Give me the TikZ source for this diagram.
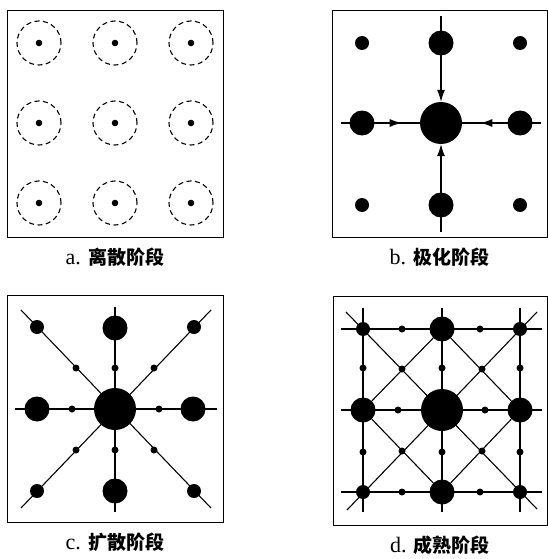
\documentclass[tikz,border=0pt]{standalone}
\usepackage{fontspec}
\setmainfont{Liberation Serif}
\newfontfamily\cjk{Noto Sans CJK SC}
\usepackage{tikz}
\usetikzlibrary{positioning, arrows.meta, decorations.markings}

\begin{document}
\begin{tikzpicture}[x=1pt, y=-1pt,
			panel/.style={draw, line width=0.9pt, inner sep=0pt},
			seed/.style={circle, draw, line width=1.1pt, dash pattern=on 5pt off 3.5pt, minimum size=44pt, inner sep=0pt,
				path picture={\fill (path picture bounding box.center) circle (3.3pt);}},
			dotS/.style={circle, fill, inner sep=0pt, minimum size=7pt},
			dotM/.style={dotS, minimum size=14pt},
			dotL/.style={dotS, minimum size=25pt},
			dotXL/.style={dotS, minimum size=42pt},
			link/.style={line width=1.1pt},
			flow/.style={postaction={decorate}, decoration={markings, mark=at position 0.77 with {\arrow{Latex[length=12pt,width=8pt]}}}},
			stage/.style={font=\fontsize{22}{24}\selectfont}]
			\useasboundingbox (0,0) rectangle (548,559);
			% a: scattered seeds
			\node[panel, minimum width=216pt, minimum height=227pt] (panelA) at (115,123.5) {};
			\node[seed] (a11) at (39,43) {};
			\node[seed] (a12) at (115,43) {};
			\node[seed] (a13) at (191,43) {};
			\node[seed] (a21) at (39,123) {};
			\node[seed] (a22) at (115,123) {};
			\node[seed] (a23) at (191,123) {};
			\node[seed] (a31) at (39,203) {};
			\node[seed] (a32) at (115,203) {};
			\node[seed] (a33) at (191,203) {};
			\node[stage, below=7pt of panelA] (labA) {a. {\cjk\bfseries\fontsize{19}{22}\selectfont 离散阶段}};
			% b: polarisation
			\node[panel, minimum width=215pt, minimum height=227pt] (panelB) at (439.5,123.5) {};
			\node[dotXL] (bC) at (441,123) {};
			\node[dotL] (bN) at (441,43) {};
			\node[dotL] (bS) at (441,205) {};
			\node[dotL] (bW) at (362,123) {};
			\node[dotL] (bE) at (520,123) {};
			\node[dotM] (bNW) at (362,43) {};
			\node[dotM] (bNE) at (520,43) {};
			\node[dotM] (bSW) at (362,205) {};
			\node[dotM] (bSE) at (520,205) {};
			\coordinate (bNend) at (441,16);
			\coordinate (bSend) at (441,232);
			\coordinate (bWend) at (341,123);
			\coordinate (bEend) at (541,123);
			\draw[link, -{Latex[length=12pt,width=8pt]}] (bNend) -- (bC);
			\draw[link, -{Latex[length=12pt,width=8pt]}] (bSend) -- (bC);
			\draw[link, flow] (bWend) -- (bC);
			\draw[link, flow] (bEend) -- (bC);
			\node[stage, below=7pt of panelB] (labB) {b. {\cjk\bfseries\fontsize{19}{22}\selectfont 极化阶段}};
			% c: diffusion
			\node[panel, minimum width=216pt, minimum height=227pt] (panelC) at (115,408.5) {};
			\coordinate (cWend) at (15,409);
			\coordinate (cEend) at (217,409);
			\coordinate (cNend) at (115,307);
			\coordinate (cSend) at (115,512);
			\coordinate (cNWend) at (21,310);
			\coordinate (cSEend) at (211,508);
			\coordinate (cNEend) at (211,310);
			\coordinate (cSWend) at (21,508);
			\draw[link] (cWend) -- (cEend);
			\draw[link] (cNend) -- (cSend);
			\draw[link] (cNWend) -- (cSEend);
			\draw[link] (cNEend) -- (cSWend);
			\node[dotXL] (cC) at (115,409) {};
			\node[dotL] (cN) at (115,328) {};
			\node[dotL] (cS) at (115,491) {};
			\node[dotL] (cW) at (37,409) {};
			\node[dotL] (cE) at (193,409) {};
			\node[dotM] (cNW) at (37,327) {};
			\node[dotM] (cNE) at (194,327) {};
			\node[dotM] (cSW) at (37,491) {};
			\node[dotM] (cSE) at (194,491) {};
			\node[dotS] (cn1) at (76,368) {};
			\node[dotS] (cn2) at (115,368) {};
			\node[dotS] (cn3) at (154,368) {};
			\node[dotS] (cm1) at (72,409) {};
			\node[dotS] (cm3) at (159,409) {};
			\node[dotS] (cs1) at (76,450) {};
			\node[dotS] (cs2) at (115,450) {};
			\node[dotS] (cs3) at (154,450) {};
			\node[stage, below=7pt of panelC] (labC) {c. {\cjk\bfseries\fontsize{19}{22}\selectfont 扩散阶段}};
			% d: maturity
			\node[panel, minimum width=214pt, minimum height=229pt] (panelD) at (440,410.5) {};
			\node[dotXL] (dC) at (442,410) {};
			\node[dotL] (dN) at (442,329) {};
			\node[dotL] (dS) at (442,492) {};
			\node[dotL] (dW) at (363,410) {};
			\node[dotL] (dE) at (520,410) {};
			\node[dotM] (dNW) at (363,329) {};
			\node[dotM] (dNE) at (520,329) {};
			\node[dotM] (dSW) at (363,492) {};
			\node[dotM] (dSE) at (520,492) {};
			\coordinate (dh1a) at (341,329); \coordinate (dh1b) at (542,329);
			\coordinate (dh2a) at (341,410); \coordinate (dh2b) at (542,410);
			\coordinate (dh3a) at (341,492); \coordinate (dh3b) at (542,492);
			\coordinate (dv1a) at (363,308); \coordinate (dv1b) at (363,512);
			\coordinate (dv2a) at (442,308); \coordinate (dv2b) at (442,512);
			\coordinate (dv3a) at (520,308); \coordinate (dv3b) at (520,512);
			\coordinate (dNWend) at (346,312); \coordinate (dSEend) at (537,509);
			\coordinate (dNEend) at (537,312); \coordinate (dSWend) at (347,510);
			\draw[link] (dh1a) -- (dh1b);
			\draw[link] (dh2a) -- (dh2b);
			\draw[link] (dh3a) -- (dh3b);
			\draw[link] (dv1a) -- (dv1b);
			\draw[link] (dv2a) -- (dv2b);
			\draw[link] (dv3a) -- (dv3b);
			\draw[link] (dNWend) -- (dSEend);
			\draw[link] (dNEend) -- (dSWend);
			\draw[link] (dN) -- (dW) -- (dS) -- (dE) -- (dN);
			\node[dotS] (dt1) at (402,329) {};
			\node[dotS] (dt2) at (480,329) {};
			\node[dotS] (dm1) at (398,410) {};
			\node[dotS] (dm2) at (485,410) {};
			\node[dotS] (db1) at (402,492) {};
			\node[dotS] (db2) at (480,492) {};
			\node[dotS] (dl1) at (363,368) {};
			\node[dotS] (dl2) at (363,452) {};
			\node[dotS] (dc1) at (442,368) {};
			\node[dotS] (dc2) at (442,452) {};
			\node[dotS] (dr1) at (520,368) {};
			\node[dotS] (dr2) at (520,452) {};
			\node[dotS] (dx1) at (402,369) {};
			\node[dotS] (dx2) at (482,369) {};
			\node[dotS] (dx3) at (402,451) {};
			\node[dotS] (dx4) at (482,451) {};
			\node[stage, below=7pt of panelD] (labD) {d. {\cjk\bfseries\fontsize{19}{22}\selectfont 成熟阶段}};
		\end{tikzpicture}
\end{document}
